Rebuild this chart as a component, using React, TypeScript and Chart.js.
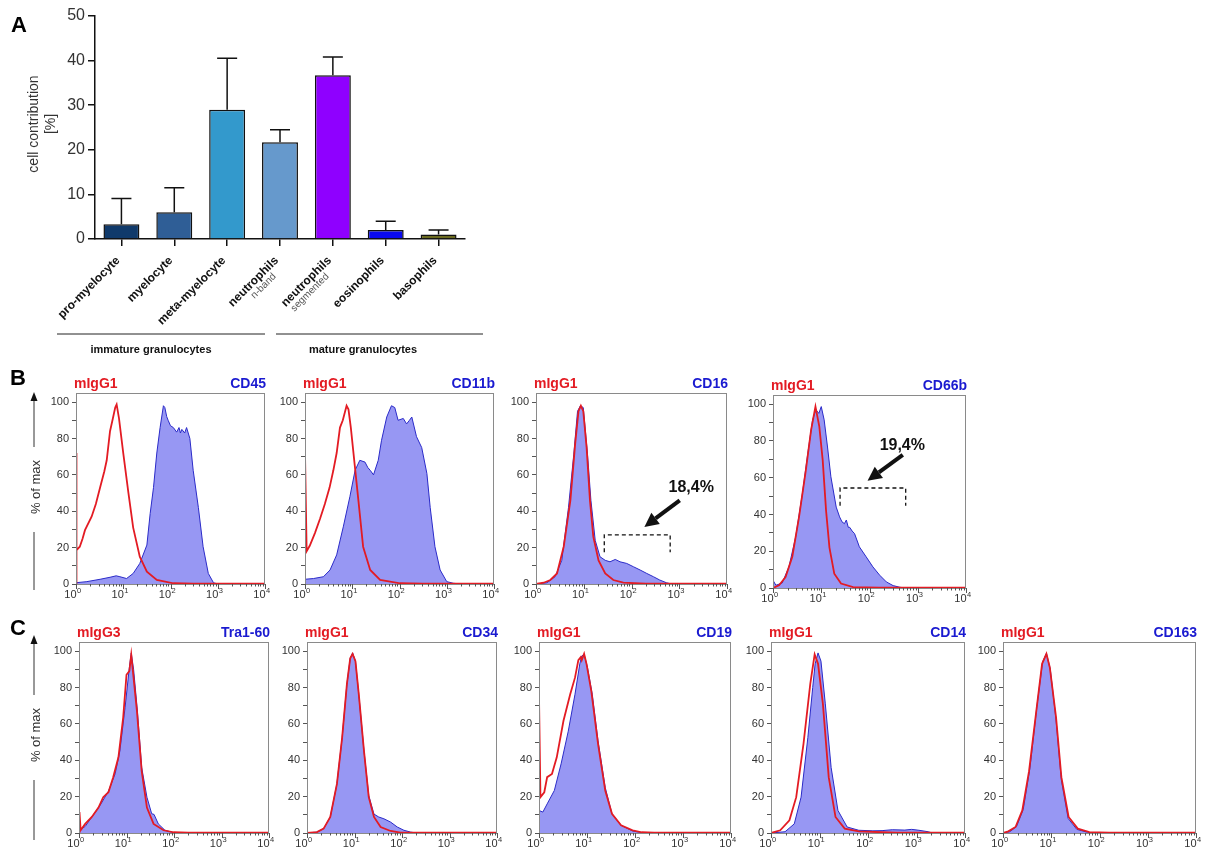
import React, { useEffect, useRef } from "react";
import { Chart, registerables } from "chart.js";
Chart.register(...registerables);

const FONT = "'Liberation Sans', Arial, Helvetica, sans-serif";

// ---------------- Panel A data ----------------
const categories = ["pro-myelocyte", "myelocyte", "meta-myelocyte", "neutrophils", "neutrophils", "eosinophils", "basophils"];
const categorySubLabels = ["", "", "", "n-band", "segmented", "", ""];
const contributionMean = [3.3, 6.0, 29.0, 21.7, 36.7, 2.0, 1.0];
const contributionSD = [5.8, 5.5, 11.5, 2.8, 4.1, 2.0, 1.0];
const barColors = ["#103a6b", "#2f5e96", "#3399cc", "#6699cc", "#8f00ff", "#0a0af0", "#6b6b20"];
const groupNames = ["immature granulocytes", "mature granulocytes"];

// ---------------- Panels B / C data (x = log10 fluorescence, y = % of max) ----------------
type Pt = [number, number];
const histXDecades = [0, 1, 2, 3, 4];
const histYTicks = [0, 10, 20, 30, 40, 50, 60, 70, 80, 90, 100];
const isoLabelsB = ["mIgG1", "mIgG1", "mIgG1", "mIgG1"];
const markerLabelsB = ["CD45", "CD11b", "CD16", "CD66b"];
const isoLabelsC = ["mIgG3", "mIgG1", "mIgG1", "mIgG1", "mIgG1"];
const markerLabelsC = ["Tra1-60", "CD34", "CD19", "CD14", "CD163"];

const cd45Iso: Pt[] = [[0, 0], [0, 72], [0.02, 18.6], [0.08, 20.5], [0.14, 25], [0.19, 29.6], [0.33, 37], [0.42, 44], [0.51, 53], [0.6, 62], [0.65, 68], [0.72, 84], [0.78, 91], [0.83, 97], [0.86, 98.7], [0.91, 91], [1.0, 72], [1.11, 50], [1.21, 31], [1.35, 15], [1.5, 6.8], [1.71, 2.2], [2.06, 0.4], [2.5, 0.2], [4, 0.2]];
const cd45Stain: Pt[] = [[0, 0.7], [0.23, 1.3], [0.51, 2.6], [0.72, 3.7], [0.85, 4.5], [0.93, 4], [1.07, 3], [1.21, 5.8], [1.35, 11.3], [1.5, 21.4], [1.57, 38.8], [1.64, 53], [1.71, 72], [1.78, 86], [1.85, 98], [1.88, 97], [1.92, 92], [1.95, 90], [2.0, 87], [2.06, 86], [2.13, 83.5], [2.18, 86], [2.21, 83], [2.24, 85], [2.3, 83], [2.34, 86], [2.41, 80], [2.48, 62.5], [2.59, 42], [2.69, 20.5], [2.8, 5.8], [2.91, 0.7], [3.0, 0]];

const cd11bIso: Pt[] = [[0, 0], [0, 72], [0.035, 18], [0.1, 21], [0.21, 28], [0.32, 36], [0.42, 44], [0.52, 53], [0.6, 62.5], [0.67, 72], [0.74, 86], [0.8, 90], [0.88, 98], [0.92, 96], [0.97, 86], [1.02, 73.5], [1.13, 46], [1.23, 20.5], [1.38, 7.7], [1.59, 2.2], [2.01, 0.4], [2.5, 0.2], [4, 0.2]];
const cd11bStain: Pt[] = [[0, 2.6], [0.18, 3], [0.39, 4], [0.53, 7.7], [0.67, 16], [0.81, 31.4], [0.95, 48], [1.06, 62.5], [1.16, 68], [1.27, 67], [1.33, 64], [1.38, 62.5], [1.45, 60], [1.55, 68], [1.62, 79], [1.73, 91.8], [1.83, 98], [1.9, 97], [1.97, 90], [2.08, 91], [2.15, 88], [2.21, 90], [2.26, 91.8], [2.36, 81], [2.47, 75], [2.58, 60.7], [2.65, 42], [2.75, 20.5], [2.86, 7.7], [3.0, 1.3], [3.14, 0.4], [3.3, 0]];

const cd16Iso: Pt[] = [[0, 0], [0.16, 0.7], [0.3, 2.2], [0.44, 5.8], [0.58, 20.5], [0.72, 46], [0.82, 77], [0.89, 95], [0.94, 98], [0.99, 95], [1.06, 75], [1.13, 46], [1.2, 26], [1.31, 13], [1.45, 5.8], [1.62, 2.2], [1.83, 0.7], [2.3, 0.2], [4, 0.2]];
const cd16Stain: Pt[] = [[0, 0], [0.23, 0.7], [0.4, 4], [0.54, 13], [0.68, 42], [0.79, 71], [0.87, 95], [0.93, 98], [0.99, 97], [1.08, 71], [1.15, 46], [1.24, 24], [1.34, 15], [1.45, 13], [1.55, 12.2], [1.66, 13.5], [1.76, 12.2], [1.9, 11.3], [2.04, 9.5], [2.18, 7.7], [2.32, 5.8], [2.46, 4], [2.59, 2.2], [2.73, 0.7], [2.84, 0]];
const cd16GateX = [1.43, 2.81];
const cd16GateY = [27, 17.4];
const cd16Arrow: Pt[] = [[3.01, 46], [2.27, 31.4]];
const cd16Pct = "18,4%";
const cd16PctAt: Pt = [3.25, 50.5];

const cd66bIso: Pt[] = [[0, 0], [0.125, 1.5], [0.26, 6], [0.4, 17], [0.54, 38.7], [0.68, 64], [0.79, 86], [0.88, 98.7], [0.96, 87.8], [1.03, 69.6], [1.1, 42], [1.17, 22], [1.27, 7.8], [1.41, 2.4], [1.66, 0.5], [2.2, 0.2], [4, 0.2]];
const cd66bStain: Pt[] = [[0, 4.2], [0.06, 1.5], [0.19, 2.7], [0.33, 11.5], [0.47, 27.8], [0.61, 51.5], [0.72, 73], [0.82, 91.5], [0.89, 97], [0.95, 95], [1.0, 98.7], [1.06, 91.5], [1.13, 76.7], [1.2, 60.5], [1.31, 44], [1.38, 38.7], [1.43, 36], [1.48, 35], [1.52, 37], [1.56, 33], [1.59, 33], [1.64, 31], [1.69, 29.6], [1.79, 22.4], [1.93, 17], [2.07, 11.5], [2.21, 7], [2.35, 3.3], [2.49, 1.3], [2.63, 0.4], [2.75, 0]];
const cd66bGateX = [1.39, 2.75];
const cd66bGateY = [54.4, 44.8];
const cd66bArrow: Pt[] = [[2.69, 72.4], [1.96, 58.4]];
const cd66bPct = "19,4%";
const cd66bPctAt: Pt = [2.68, 75];

const tra160Iso: Pt[] = [[0, 0], [0.01, 11.5], [0.035, 1.5], [0.13, 5], [0.27, 8.8], [0.41, 14], [0.51, 19.7], [0.62, 22.4], [0.72, 30.7], [0.83, 41.6], [0.93, 63.5], [1.0, 87], [1.06, 89], [1.1, 98], [1.15, 85], [1.22, 67], [1.32, 34], [1.43, 14], [1.57, 5], [1.78, 1.5], [1.99, 0.4], [2.3, 0.2], [4, 0.2]];
const tra160Stain: Pt[] = [[0, 1.5], [0.13, 3.6], [0.27, 8.8], [0.44, 15], [0.62, 23], [0.76, 32.5], [0.86, 45], [0.97, 69], [1.06, 91], [1.1, 98.9], [1.15, 89.8], [1.23, 67], [1.32, 36], [1.43, 19.7], [1.53, 10.6], [1.58, 10.2], [1.67, 5], [1.81, 1.5], [1.99, 0.2], [2.1, 0]];

const cd34Iso: Pt[] = [[0, 0], [0.21, 0.5], [0.35, 2.4], [0.49, 8.8], [0.63, 27], [0.74, 52.5], [0.84, 81.8], [0.91, 96], [0.96, 98.5], [1.02, 94.5], [1.09, 76.3], [1.2, 45], [1.3, 19.7], [1.41, 8.8], [1.55, 3.3], [1.76, 1.1], [1.97, 0.2], [4, 0.2]];
const cd34Stain: Pt[] = [[0, 0], [0.21, 0.5], [0.35, 2.4], [0.49, 8.8], [0.63, 27], [0.74, 52.5], [0.84, 81.8], [0.91, 96], [0.96, 99], [1.02, 94.5], [1.09, 76.3], [1.2, 45], [1.3, 20.6], [1.41, 10.4], [1.51, 8.8], [1.62, 7.8], [1.76, 6], [1.9, 3.3], [2.04, 1.5], [2.18, 0.5], [2.3, 0]];

const cd19Iso: Pt[] = [[0, 0], [0, 75], [0.03, 19.7], [0.11, 22.4], [0.17, 30.7], [0.27, 32.5], [0.37, 41.6], [0.51, 61.7], [0.65, 76.3], [0.75, 85.4], [0.82, 95], [0.87, 96.7], [0.89, 95], [0.94, 98.5], [0.99, 93], [1.09, 78], [1.23, 49], [1.38, 23.4], [1.52, 10.6], [1.71, 4.2], [1.95, 1.5], [2.14, 0.4], [2.4, 0.2], [4, 0.2]];
const cd19Stain: Pt[] = [[0, 12.4], [0.08, 11.5], [0.17, 16], [0.32, 23.4], [0.46, 38], [0.61, 56], [0.75, 76.3], [0.85, 93], [0.89, 97.3], [0.94, 98.2], [1.01, 91], [1.11, 76.3], [1.23, 50.7], [1.38, 25], [1.52, 10.6], [1.71, 4.2], [1.95, 1.1], [2.14, 0.2], [2.3, 0]];

const cd14Iso: Pt[] = [[0, 0], [0.19, 1.5], [0.38, 7], [0.52, 19.7], [0.67, 49], [0.81, 82], [0.9, 98.2], [0.97, 93], [1.07, 71], [1.19, 30.7], [1.33, 8.8], [1.52, 2.4], [1.81, 0.9], [2.29, 0.4], [2.6, 0.2], [4, 0.2]];
const cd14Stain: Pt[] = [[0, 0], [0.29, 0.7], [0.48, 5], [0.62, 19.7], [0.76, 52.5], [0.86, 80], [0.91, 93], [0.97, 99], [1.03, 94.5], [1.12, 71], [1.24, 36], [1.38, 12.4], [1.57, 3.3], [1.81, 1.5], [2.1, 1.2], [2.29, 1.3], [2.5, 1.8], [2.76, 1.6], [2.9, 2.0], [3.05, 1.5], [3.24, 0.7], [3.33, 0]];

const cd163Iso: Pt[] = [[0, 0], [0.11, 0.9], [0.26, 3.3], [0.4, 12.4], [0.54, 34], [0.69, 67], [0.81, 93], [0.9, 98.5], [0.97, 91], [1.1, 63.5], [1.21, 30.7], [1.36, 8.8], [1.55, 2.4], [1.79, 0.5], [2.2, 0.2], [4, 0.2]];
const cd163Stain: Pt[] = [[0, 0], [0.14, 0.7], [0.28, 3.5], [0.42, 13], [0.56, 36], [0.7, 69], [0.82, 94], [0.9, 98.8], [0.98, 90], [1.1, 62], [1.21, 29], [1.35, 8], [1.53, 2], [1.75, 0.4], [1.9, 0]];

const RED = "#e31b23";
const BLUE_LINE = "#2a2ac8";
const BLUE_FILL = "rgba(140,140,242,0.9)";

type Gate = { gx: number[]; gy: number[]; arrow: Pt[]; text: string; at: Pt };

// ---------------- Panel A ----------------
function BarChartA() {
  const ref = useRef<HTMLCanvasElement>(null);
  useEffect(() => {
    const PADL = 95, PADT = 16, PADR = 35, PADB = 91;
    const errorBars = {
      id: "errorBars",
      afterDatasetsDraw(chart: any) {
        const { ctx } = chart;
        const ys = chart.scales.y;
        const meta = chart.getDatasetMeta(0);
        ctx.save();
        ctx.strokeStyle = "#111";
        ctx.lineWidth = 1.5;
        meta.data.forEach((bar: any, i: number) => {
          const x = bar.x;
          const y0 = ys.getPixelForValue(contributionMean[i]);
          const y1 = ys.getPixelForValue(contributionMean[i] + contributionSD[i]);
          ctx.beginPath();
          ctx.moveTo(x, y0);
          ctx.lineTo(x, y1);
          ctx.moveTo(x - 10, y1);
          ctx.lineTo(x + 10, y1);
          ctx.stroke();
        });
        ctx.restore();
      },
    };
    const labels = {
      id: "barLabels",
      afterDraw(chart: any) {
        const { ctx, chartArea } = chart;
        const xs = chart.scales.x;
        categories.forEach((c, i) => {
          const px = xs.getPixelForValue(i);
          ctx.save();
          ctx.translate(px - 1, chartArea.bottom + 22);
          ctx.rotate(-Math.PI / 4);
          ctx.textAlign = "right";
          ctx.textBaseline = "alphabetic";
          ctx.fillStyle = "#111";
          ctx.font = `bold 12px ${FONT}`;
          ctx.fillText(c, 0, 0);
          if (categorySubLabels[i]) {
            ctx.font = `10px ${FONT}`;
            ctx.fillStyle = "#555";
            ctx.fillText(categorySubLabels[i], -13, 9.5);
          }
          ctx.restore();
        });
      },
    };
    const chart = new Chart(ref.current!, {
      type: "bar",
      data: {
        labels: categories,
        datasets: [
          {
            data: contributionMean,
            backgroundColor: barColors,
            borderColor: "#111",
            borderWidth: 1.5,
            barPercentage: 0.68,
            categoryPercentage: 1,
          },
        ],
      },
      options: {
        animation: false,
        responsive: false,
        devicePixelRatio: 1,
        layout: { padding: { top: PADT, right: PADR, left: 0, bottom: 0 } },
        plugins: { legend: { display: false }, tooltip: { enabled: false } },
        scales: {
          x: {
            grid: { display: true, offset: false, drawOnChartArea: false, drawTicks: true, tickLength: 7, color: "#111", lineWidth: 1.5 },
            border: { display: true, color: "#111", width: 1.5 },
            ticks: { display: false },
            afterFit: (s: any) => {
              s.height = PADB;
              s.paddingLeft = 0;
              s.paddingRight = 0;
            },
          },
          y: {
            min: 0,
            max: 50,
            ticks: { stepSize: 10, font: { family: FONT, size: 16 }, color: "#333", padding: 3 },
            grid: { display: true, drawOnChartArea: false, drawTicks: true, tickLength: 7, color: "#111", lineWidth: 1.5 },
            border: { display: true, color: "#111", width: 1.5 },
            afterFit: (s: any) => {
              s.width = PADL;
              s.paddingTop = 0;
              s.paddingBottom = 0;
            },
          },
        },
      } as any,
      plugins: [errorBars, labels],
    });
    return () => chart.destroy();
  }, []);
  return <canvas ref={ref} width={500} height={330} style={{ position: "absolute", left: 0, top: 0 }} />;
}

// ---------------- Histogram panel ----------------
type HistProps = {
  left: number;
  top: number;
  w: number;
  h: number;
  iso: string;
  marker: string;
  isoData: Pt[];
  stainData: Pt[];
  gate?: Gate;
};

const PADL = 44, PADT = 24, PADR = 12, PADB = 22;

function Histogram(props: HistProps) {
  const ref = useRef<HTMLCanvasElement>(null);
  useEffect(() => {
    const { iso, marker, isoData, stainData, gate } = props;
    const deco = {
      id: "deco",
      afterDraw(chart: any) {
        const { ctx, chartArea: a } = chart;
        const xs = chart.scales.x;
        const ys = chart.scales.y;
        ctx.save();
        // frame
        ctx.strokeStyle = "#8a8a8a";
        ctx.lineWidth = 1;
        ctx.strokeRect(a.left + 0.5, a.top + 0.5, a.right - a.left - 1, a.bottom - a.top);
        // x ticks (log decades with minors)
        ctx.strokeStyle = "#555";
        for (let d = 0; d < histXDecades.length; d++) {
          const dec = histXDecades[d];
          for (let k = 1; k <= 9; k++) {
            if (dec === 4 && k > 1) break;
            const v = dec + Math.log10(k);
            const px = Math.round(xs.getPixelForValue(v)) + 0.5;
            ctx.beginPath();
            ctx.moveTo(px, a.bottom);
            ctx.lineTo(px, a.bottom + (k === 1 ? 5 : 2.5));
            ctx.stroke();
          }
          const px = xs.getPixelForValue(dec);
          ctx.fillStyle = "#333";
          ctx.textBaseline = "middle";
          ctx.font = `11px ${FONT}`;
          ctx.textAlign = "right";
          ctx.fillText("10", px + 0.5, a.bottom + 11);
          ctx.font = `7.5px ${FONT}`;
          ctx.textAlign = "left";
          ctx.fillText(String(dec), px + 1, a.bottom + 7);
        }
        // titles
        ctx.textBaseline = "alphabetic";
        ctx.font = `bold 14px ${FONT}`;
        ctx.fillStyle = RED;
        ctx.textAlign = "left";
        ctx.fillText(iso, a.left - 2, a.top - 5);
        ctx.fillStyle = "#1a1ad0";
        ctx.textAlign = "right";
        ctx.fillText(marker, a.right + 1, a.top - 5);
        // gate annotation
        if (gate) {
          const x1 = xs.getPixelForValue(gate.gx[0]);
          const x2 = xs.getPixelForValue(gate.gx[1]);
          const yt = ys.getPixelForValue(gate.gy[0]);
          const yb = ys.getPixelForValue(gate.gy[1]);
          ctx.strokeStyle = "#111";
          ctx.lineWidth = 1.3;
          ctx.setLineDash([4, 3]);
          ctx.beginPath();
          ctx.moveTo(x1, yb);
          ctx.lineTo(x1, yt);
          ctx.lineTo(x2, yt);
          ctx.lineTo(x2, yb);
          ctx.stroke();
          ctx.setLineDash([]);
          const tx = xs.getPixelForValue(gate.arrow[0][0]);
          const ty = ys.getPixelForValue(gate.arrow[0][1]);
          const hx = xs.getPixelForValue(gate.arrow[1][0]);
          const hy = ys.getPixelForValue(gate.arrow[1][1]);
          const ang = Math.atan2(hy - ty, hx - tx);
          const headL = 14, headW = 7;
          const bx = hx - headL * Math.cos(ang);
          const by = hy - headL * Math.sin(ang);
          ctx.lineWidth = 4;
          ctx.beginPath();
          ctx.moveTo(tx, ty);
          ctx.lineTo(bx, by);
          ctx.stroke();
          ctx.fillStyle = "#111";
          ctx.beginPath();
          ctx.moveTo(hx, hy);
          ctx.lineTo(bx + headW * Math.sin(ang), by - headW * Math.cos(ang));
          ctx.lineTo(bx - headW * Math.sin(ang), by + headW * Math.cos(ang));
          ctx.closePath();
          ctx.fill();
          ctx.font = `bold 16px ${FONT}`;
          ctx.textAlign = "center";
          ctx.textBaseline = "alphabetic";
          ctx.fillText(gate.text, xs.getPixelForValue(gate.at[0]), ys.getPixelForValue(gate.at[1]));
        }
        ctx.restore();
      },
    };
    const chart = new Chart(ref.current!, {
      type: "line",
      data: {
        datasets: [
          {
            data: stainData.map(([x, y]) => ({ x, y })),
            borderColor: BLUE_LINE,
            backgroundColor: BLUE_FILL,
            borderWidth: 1,
            pointRadius: 0,
            fill: "origin",
            tension: 0,
            order: 1,
          },
          {
            data: isoData.map(([x, y]) => ({ x, y })),
            borderColor: RED,
            borderWidth: 1.8,
            pointRadius: 0,
            fill: false,
            tension: 0,
            order: 0,
          },
        ],
      },
      options: {
        animation: false,
        responsive: false,
        devicePixelRatio: 1,
        layout: { padding: { top: PADT, right: PADR, left: 0, bottom: 0 } },
        plugins: { legend: { display: false }, tooltip: { enabled: false } },
        scales: {
          x: {
            type: "linear",
            min: 0,
            max: 4,
            ticks: { display: false },
            grid: { display: false },
            border: { display: false },
            afterFit: (s: any) => {
              s.height = PADB;
              s.paddingLeft = 0;
              s.paddingRight = 0;
            },
          },
          y: {
            min: 0,
            max: 105,
            afterBuildTicks: (s: any) => {
              s.ticks = histYTicks.map((v) => ({ value: v }));
            },
            ticks: {
              callback: (v: any) => (Number(v) % 20 === 0 ? String(v) : ""),
              font: { family: FONT, size: 11 },
              color: "#333",
              padding: 3,
              autoSkip: false,
            },
            grid: { display: true, drawOnChartArea: false, drawTicks: true, tickLength: 4, color: "#555" },
            border: { display: false },
            afterFit: (s: any) => {
              s.width = PADL;
              s.paddingTop = 0;
              s.paddingBottom = 0;
            },
          },
        },
      } as any,
      plugins: [deco],
    });
    return () => chart.destroy();
  }, []);
  const { left, top, w, h } = props;
  return (
    <canvas
      ref={ref}
      width={w + PADL + PADR}
      height={h + PADT + PADB}
      style={{ position: "absolute", left: left - PADL, top: top - PADT }}
    />
  );
}

const cd16Gate: Gate = { gx: cd16GateX, gy: cd16GateY, arrow: cd16Arrow, text: cd16Pct, at: cd16PctAt };
const cd66bGate: Gate = { gx: cd66bGateX, gy: cd66bGateY, arrow: cd66bArrow, text: cd66bPct, at: cd66bPctAt };

const rowB = [
  { left: 76, top: 393, w: 189, h: 191, isoData: cd45Iso, stainData: cd45Stain },
  { left: 305, top: 393, w: 189, h: 191, isoData: cd11bIso, stainData: cd11bStain },
  { left: 536, top: 393, w: 191, h: 191, isoData: cd16Iso, stainData: cd16Stain, gate: cd16Gate },
  { left: 773, top: 395, w: 193, h: 193, isoData: cd66bIso, stainData: cd66bStain, gate: cd66bGate },
];
const rowC = [
  { left: 79, top: 642, w: 190, h: 191, isoData: tra160Iso, stainData: tra160Stain },
  { left: 307, top: 642, w: 190, h: 191, isoData: cd34Iso, stainData: cd34Stain },
  { left: 539, top: 642, w: 192, h: 191, isoData: cd19Iso, stainData: cd19Stain },
  { left: 771, top: 642, w: 194, h: 191, isoData: cd14Iso, stainData: cd14Stain },
  { left: 1003, top: 642, w: 193, h: 191, isoData: cd163Iso, stainData: cd163Stain },
];

function PercentOfMax({ tipY, textY, lineBottom }: { tipY: number; textY: number; lineBottom: number }) {
  const x = 34;
  return (
    <g>
      <line x1={x} y1={tipY + 8} x2={x} y2={textY - 40} stroke="#333" strokeWidth={1} />
      <polygon points={`${x},${tipY} ${x - 3.5},${tipY + 9} ${x + 3.5},${tipY + 9}`} fill="#111" />
      <text
        transform={`translate(${x + 1},${textY}) rotate(-90)`}
        textAnchor="middle"
        dominantBaseline="central"
        fontFamily={FONT}
        fontSize={13}
        fill="#333"
      >
        % of max
      </text>
      <line x1={x} y1={textY + 45} x2={x} y2={lineBottom} stroke="#333" strokeWidth={1} />
    </g>
  );
}

export default function App() {
  return (
    <div style={{ position: "absolute", left: 0, top: 0, width: 1209, height: 857, background: "#fff", overflow: "hidden" }}>
      <BarChartA />
      {rowB.map((p, i) => (
        <Histogram key={"b" + i} {...p} iso={isoLabelsB[i]} marker={markerLabelsB[i]} />
      ))}
      {rowC.map((p, i) => (
        <Histogram key={"c" + i} {...p} iso={isoLabelsC[i]} marker={markerLabelsC[i]} />
      ))}
      <svg width={1209} height={857} style={{ position: "absolute", left: 0, top: 0, pointerEvents: "none" }}>
        <text x={11} y={32} fontFamily={FONT} fontWeight="bold" fontSize={22} fill="#000">A</text>
        <text x={10} y={385} fontFamily={FONT} fontWeight="bold" fontSize={22} fill="#000">B</text>
        <text x={10} y={635} fontFamily={FONT} fontWeight="bold" fontSize={22} fill="#000">C</text>
        <text transform="translate(33,124) rotate(-90)" textAnchor="middle" dominantBaseline="central" fontFamily={FONT} fontSize={14} fill="#333">
          cell contribution
        </text>
        <text transform="translate(50,124) rotate(-90)" textAnchor="middle" dominantBaseline="central" fontFamily={FONT} fontSize={14} fill="#333">
          [%]
        </text>
        <line x1={57} y1={334} x2={265} y2={334} stroke="#222" strokeWidth={1} />
        <line x1={276} y1={334} x2={483} y2={334} stroke="#222" strokeWidth={1} />
        <text x={151} y={353} textAnchor="middle" fontFamily={FONT} fontWeight="bold" fontSize={11} fill="#111">
          {groupNames[0]}
        </text>
        <text x={363} y={353} textAnchor="middle" fontFamily={FONT} fontWeight="bold" fontSize={11} fill="#111">
          {groupNames[1]}
        </text>
        <PercentOfMax tipY={392} textY={487} lineBottom={590} />
        <PercentOfMax tipY={635} textY={735} lineBottom={840} />
      </svg>
    </div>
  );
}
